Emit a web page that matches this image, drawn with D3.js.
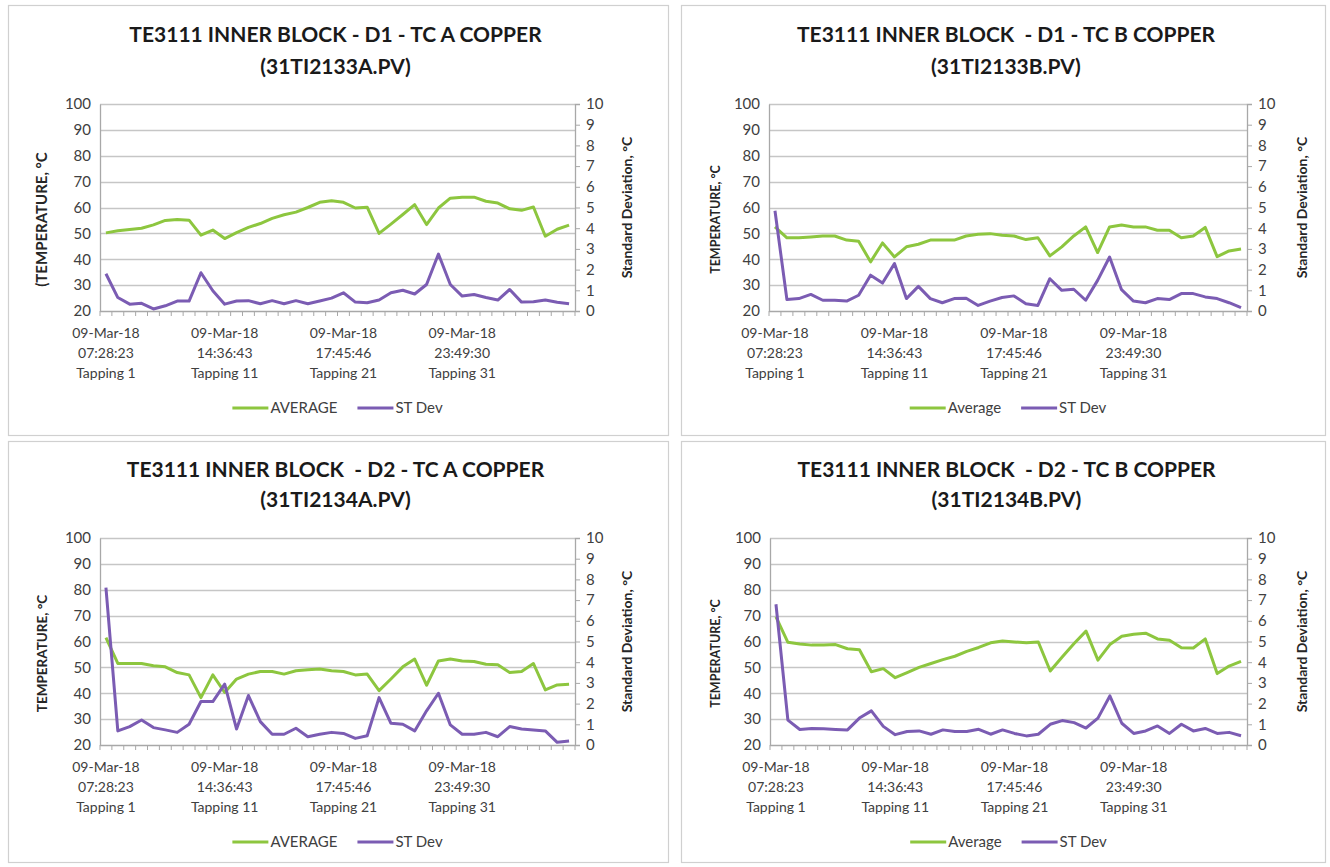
<!DOCTYPE html>
<html>
<head>
<meta charset="utf-8">
<script src="https://cdn.jsdelivr.net/npm/d3@7"></script>
<style>
  html, body { margin: 0; padding: 0; background: #fff; }
  svg { display: block; }
  text { font-family: Lato, "Open Sans", sans-serif; }
</style>
</head>
<body>
<svg id="chart" width="1330" height="867"></svg>
<script>
// ---------------- DATA ----------------
const tappings = [1,2,3,4,5,6,7,8,9,10,11,12,13,14,15,16,17,18,19,20,
                  21,22,23,24,25,26,27,28,29,30,31,32,33,34,35,36,37,38,39,40];
const xTickTappings = [1, 11, 21, 31];
const xTickLabels = [
  ["09-Mar-18", "07:28:23", "Tapping 1"],
  ["09-Mar-18", "14:36:43", "Tapping 11"],
  ["09-Mar-18", "17:45:46", "Tapping 21"],
  ["09-Mar-18", "23:49:30", "Tapping 31"]
];
const tempTicks = [20, 30, 40, 50, 60, 70, 80, 90, 100];
const sdTicks = [0, 1, 2, 3, 4, 5, 6, 7, 8, 9, 10];

const titles = [
  ["TE3111 INNER BLOCK - D1 - TC A COPPER", "(31TI2133A.PV)"],
  ["TE3111 INNER BLOCK  - D1 - TC B COPPER", "(31TI2133B.PV)"],
  ["TE3111 INNER BLOCK  - D2 - TC A COPPER", "(31TI2134A.PV)"],
  ["TE3111 INNER BLOCK  - D2 - TC B COPPER", "(31TI2134B.PV)"]
];
const leftTitles = ["(TEMPERATURE, \u00B0C", "TEMPERATURE, \u00B0C", "TEMPERATURE, \u00B0C", "TEMPERATURE, \u00B0C"];
const rightTitle = "Standard Deviation, \u00B0C";
const avgLabels = ["AVERAGE", "Average", "AVERAGE", "Average"];
const sdLabel = "ST Dev";

const avgD1A = [50.2, 51.0, 51.5, 52.0, 53.3, 55.0, 55.4, 55.1, 49.3, 51.3,
                48.0, 50.3, 52.3, 53.8, 55.8, 57.2, 58.2, 60.0, 62.0, 62.6,
                62.0, 59.8, 60.1, 50.0, 53.6, 57.3, 61.1, 53.4, 59.8, 63.6,
                64.0, 64.0, 62.4, 61.7, 59.5, 58.9, 60.2, 48.9, 51.6, 53.2];
const sdD1A  = [1.80, 0.65, 0.33, 0.37, 0.10, 0.25, 0.48, 0.48, 1.85, 0.98,
                0.33, 0.48, 0.50, 0.35, 0.50, 0.35, 0.50, 0.35, 0.48, 0.62,
                0.88, 0.43, 0.40, 0.53, 0.88, 1.00, 0.82, 1.28, 2.75, 1.28,
                0.72, 0.80, 0.65, 0.53, 1.04, 0.43, 0.45, 0.53, 0.42, 0.35];

const avgD1B = [52.5, 48.3, 48.3, 48.6, 49.0, 49.0, 47.4, 47.0, 39.0, 46.3,
                40.9, 44.8, 45.8, 47.4, 47.4, 47.4, 49.0, 49.7, 49.9, 49.3,
                49.0, 47.6, 48.3, 41.3, 44.8, 49.0, 52.5, 42.6, 52.5, 53.2,
                52.5, 52.5, 51.2, 51.2, 48.3, 49.0, 52.3, 41.0, 43.2, 44.0];
const sdD1B  = [4.84, 0.55, 0.60, 0.80, 0.52, 0.52, 0.48, 0.76, 1.73, 1.35,
                2.29, 0.60, 1.19, 0.60, 0.40, 0.60, 0.62, 0.27, 0.48, 0.65,
                0.73, 0.35, 0.27, 1.56, 1.00, 1.05, 0.52, 1.48, 2.61, 1.03,
                0.48, 0.40, 0.60, 0.55, 0.84, 0.84, 0.68, 0.60, 0.40, 0.16];

const avgD2A = [61.5, 51.5, 51.5, 51.5, 50.6, 50.2, 48.0, 47.1, 38.3, 47.1,
                40.3, 45.5, 47.4, 48.4, 48.4, 47.4, 48.7, 49.1, 49.4, 48.7,
                48.4, 47.1, 47.4, 41.0, 45.5, 50.2, 53.2, 43.1, 52.5, 53.2,
                52.5, 52.3, 51.2, 51.0, 48.0, 48.4, 51.5, 41.3, 43.2, 43.5];
const sdD2A  = [7.60, 0.68, 0.89, 1.21, 0.84, 0.73, 0.61, 1.00, 2.10, 2.10,
                2.94, 0.77, 2.39, 1.13, 0.52, 0.52, 0.81, 0.40, 0.52, 0.61,
                0.56, 0.32, 0.45, 2.29, 1.05, 1.00, 0.68, 1.65, 2.50, 0.97,
                0.52, 0.52, 0.61, 0.40, 0.89, 0.77, 0.73, 0.68, 0.13, 0.19];

const avgD2B = [69.5, 59.7, 59.0, 58.6, 58.6, 58.8, 57.2, 56.8, 48.3, 49.5,
                46.0, 48.0, 50.0, 51.5, 53.0, 54.3, 56.2, 57.7, 59.5, 60.2,
                59.8, 59.5, 59.8, 48.6, 54.0, 59.2, 64.0, 52.8, 58.8, 62.0,
                62.8, 63.2, 61.0, 60.5, 57.6, 57.5, 61.0, 47.6, 50.5, 52.3];
const sdD2B  = [6.80, 1.20, 0.75, 0.80, 0.78, 0.75, 0.73, 1.30, 1.65, 0.90,
                0.50, 0.65, 0.68, 0.52, 0.73, 0.65, 0.65, 0.76, 0.52, 0.73,
                0.56, 0.44, 0.52, 1.00, 1.18, 1.08, 0.82, 1.30, 2.37, 1.05,
                0.56, 0.68, 0.92, 0.56, 1.00, 0.68, 0.80, 0.56, 0.61, 0.45];

// ---------------- LAYOUT / STYLE ----------------
const GREEN = "#8dc63f";
const PURPLE = "#7b5cb3";
const panels = [
  { avg: avgD1A, sd: sdD1A, frame: [8, 5, 668, 435],   plot: [100, 104, 575, 311],  titleY: [35, 67],   leftX: 42,  leftSize: 15,   rightX: 627 },
  { avg: avgD1B, sd: sdD1B, frame: [681, 5, 1325, 435], plot: [769, 104, 1247, 311], titleY: [35, 67],   leftX: 716, leftSize: 12.5, rightX: 1302 },
  { avg: avgD2A, sd: sdD2A, frame: [8, 441, 668, 862],  plot: [100, 538, 575, 745],  titleY: [470, 500], leftX: 42,  leftSize: 13.5, rightX: 627 },
  { avg: avgD2B, sd: sdD2B, frame: [681, 441, 1325, 862], plot: [770, 538, 1247, 745], titleY: [470, 500], leftX: 716, leftSize: 12.5, rightX: 1302 }
];

const svg = d3.select("#chart");

panels.forEach((p, k) => {
  const [fx0, fy0, fx1, fy1] = p.frame;
  const [x0, y0, x1, y1] = p.plot;
  const g = svg.append("g");

  g.append("rect").attr("x", fx0 + 0.5).attr("y", fy0 + 0.5)
    .attr("width", fx1 - fx0).attr("height", fy1 - fy0)
    .attr("fill", "#fff").attr("stroke", "#d0d0d0").attr("stroke-width", 1.2);

  const x = d3.scaleBand().domain(tappings).range([x0, x1]).padding(0);
  const yT = d3.scaleLinear().domain([20, 100]).range([y1, y0]);
  const yS = d3.scaleLinear().domain([0, 10]).range([y1, y0]);
  const cx = (x0 + x1) / 2;
  const bw = x.bandwidth();

  // titles
  g.append("text").attr("x", cx - 2).attr("y", p.titleY[0]).attr("dy", "0.35em")
    .attr("text-anchor", "middle").attr("font-size", 21).attr("font-weight", "bold")
    .attr("fill", "#1a1a1a").style("white-space", "pre").text(titles[k][0]);
  g.append("text").attr("x", cx - 2).attr("y", p.titleY[1]).attr("dy", "0.35em")
    .attr("text-anchor", "middle").attr("font-size", 21).attr("font-weight", "bold")
    .attr("fill", "#1a1a1a").text(titles[k][1]);

  // gridlines
  g.append("g").selectAll("line").data(tempTicks.filter(t => t > 20)).join("line")
    .attr("x1", x0).attr("x2", x1)
    .attr("y1", d => Math.round(yT(d)) + 0.5).attr("y2", d => Math.round(yT(d)) + 0.5)
    .attr("stroke", "#c6c6c6").attr("stroke-width", 1.3);

  // left axis
  const la = g.append("g").attr("transform", `translate(${x0},0)`)
    .call(d3.axisLeft(yT).tickValues(tempTicks).tickSize(0).tickPadding(9));
  la.select(".domain").attr("stroke", "#a8a8a8").attr("stroke-width", 1.3);
  la.selectAll("text").attr("font-size", 15).attr("fill", "#404040")
    .attr("font-family", "Lato, sans-serif");

  // right axis
  const ra = g.append("g").attr("transform", `translate(${x1},0)`)
    .call(d3.axisRight(yS).tickValues(sdTicks).tickSize(5).tickPadding(6));
  ra.select(".domain").attr("stroke", "#a8a8a8").attr("stroke-width", 1.3);
  ra.selectAll("line").attr("stroke", "#a8a8a8");
  ra.selectAll("text").attr("font-size", 15).attr("fill", "#404040")
    .attr("font-family", "Lato, sans-serif");

  // bottom axis: baseline + category boundary ticks
  g.append("line").attr("x1", x0).attr("x2", x1).attr("y1", y1 + 0.5).attr("y2", y1 + 0.5)
    .attr("stroke", "#a8a8a8").attr("stroke-width", 1.3);
  const bounds = tappings.map(t => x(t)).concat([x(tappings[tappings.length - 1]) + bw]);
  g.append("g").selectAll("line").data(bounds).join("line")
    .attr("x1", d => d).attr("x2", d => d).attr("y1", y1).attr("y2", y1 + 5)
    .attr("stroke", "#a8a8a8").attr("stroke-width", 1);

  // x labels
  xTickTappings.forEach((t, i) => {
    const tx = g.append("text").attr("x", x(t) + bw / 2).attr("y", y1 + 22)
      .attr("text-anchor", "middle").attr("font-size", 14).attr("fill", "#404040");
    xTickLabels[i].forEach((s, j) => {
      tx.append("tspan").attr("x", x(t) + bw / 2).attr("dy", j === 0 ? "0.35em" : "20px").text(s);
    });
  });

  // axis titles
  g.append("text").attr("transform", `translate(${p.leftX},${(y0 + y1) / 2 + 12}) rotate(-90)`)
    .attr("text-anchor", "middle").attr("dy", "0.35em").attr("font-size", p.leftSize)
    .attr("font-weight", "bold").attr("fill", "#262626").text(leftTitles[k]);
  g.append("text").attr("transform", `translate(${p.rightX},${(y0 + y1) / 2}) rotate(-90)`)
    .attr("text-anchor", "middle").attr("dy", "0.35em").attr("font-size", 14)
    .attr("font-weight", "bold").attr("fill", "#262626").text(rightTitle);

  // series lines
  const lineT = d3.line().x((d, i) => x(tappings[i]) + bw / 2).y(d => yT(d));
  const lineS = d3.line().x((d, i) => x(tappings[i]) + bw / 2).y(d => yS(d));
  g.append("path").datum(p.avg).attr("d", lineT).attr("fill", "none")
    .attr("stroke", GREEN).attr("stroke-width", 3).attr("stroke-linejoin", "round");
  g.append("path").datum(p.sd).attr("d", lineS).attr("fill", "none")
    .attr("stroke", PURPLE).attr("stroke-width", 3).attr("stroke-linejoin", "round");

  // legend
  const ly = y1 + 97;
  const leg = g.append("g");
  const items = [[avgLabels[k], GREEN], [sdLabel, PURPLE]];
  let cur = 0;
  items.forEach(([lab, col], i) => {
    leg.append("line").attr("x1", cur).attr("x2", cur + 36).attr("y1", ly).attr("y2", ly)
      .attr("stroke", col).attr("stroke-width", 3);
    const t = leg.append("text").attr("x", cur + 38).attr("y", ly).attr("dy", "0.35em")
      .attr("font-size", 15).attr("fill", "#404040").text(lab);
    cur += 38 + t.node().getComputedTextLength() + 20;
  });
  const total = cur - 20;
  leg.attr("transform", `translate(${cx - total / 2},0)`);
});
</script>
</body>
</html>
